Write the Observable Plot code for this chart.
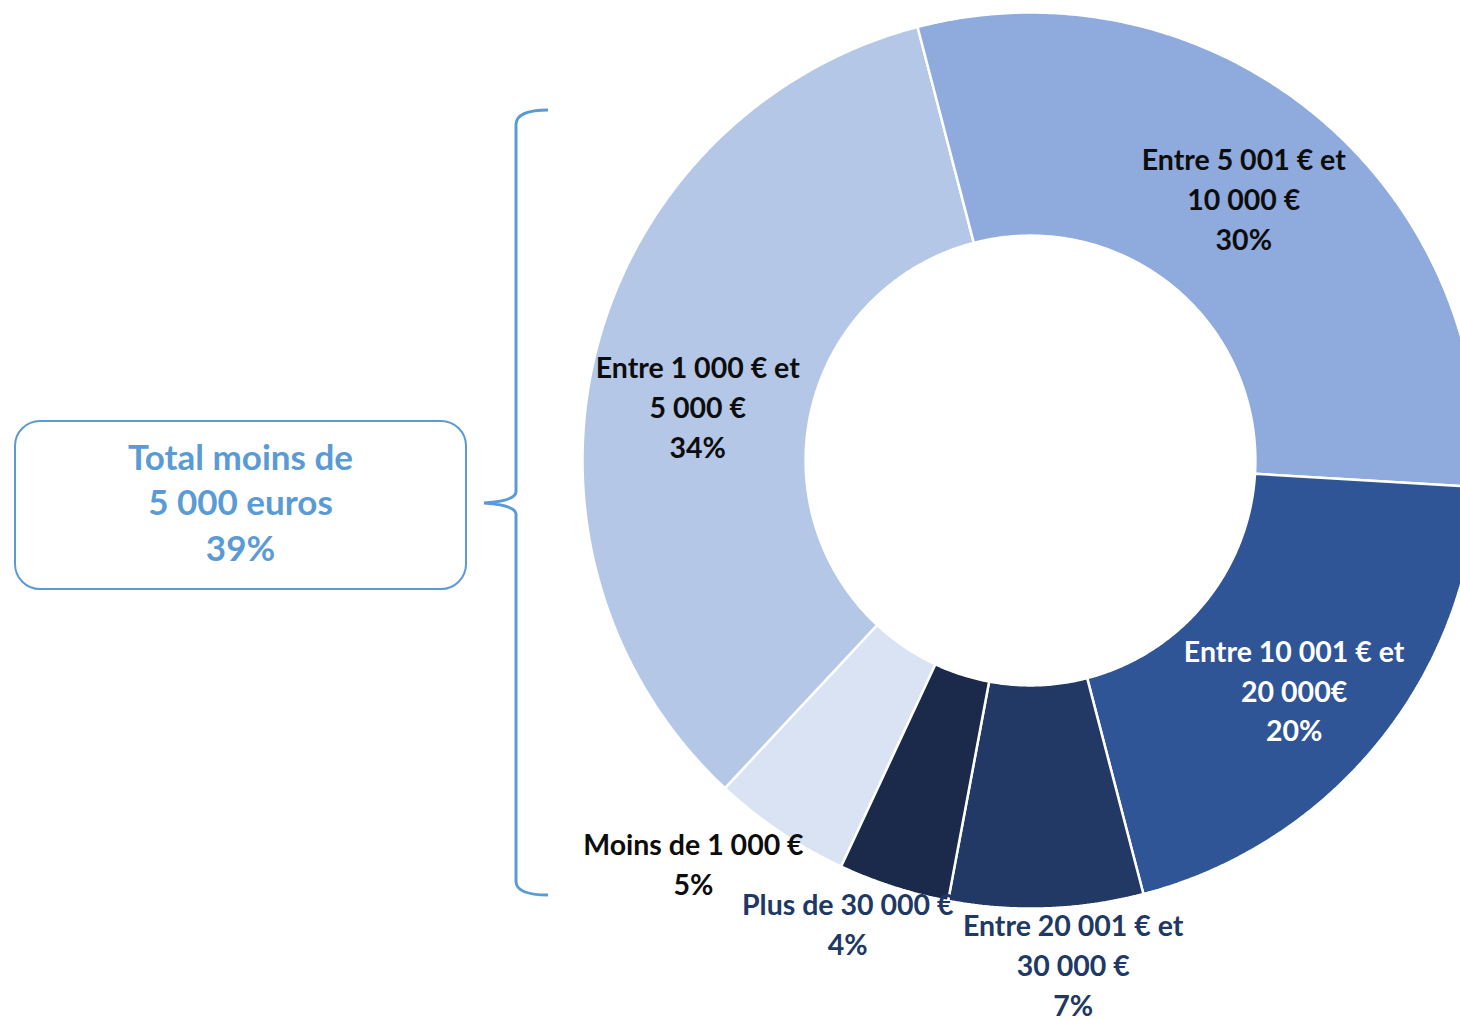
<!DOCTYPE html>
<html>
<head>
<meta charset="utf-8">
<script src="https://cdn.jsdelivr.net/npm/d3@7"></script>
<script src="https://cdn.jsdelivr.net/npm/@observablehq/plot@0.6"></script>
<style>
  html, body { margin: 0; padding: 0; background: #fff; overflow: hidden; }
  #wrap { position: relative; width: 1460px; height: 1019px; overflow: hidden; }
  #chart svg { display: block; }
  #box {
    position: absolute; left: 14px; top: 420px; width: 449px; height: 160px;
    border: 2.5px solid #5B9BD5; border-radius: 26px; box-sizing: content-box;
    display: flex; align-items: center; justify-content: center; text-align: center;
    font-family: Lato, "Open Sans", sans-serif; font-weight: 700; font-size: 35px;
    line-height: 45.5px; color: #5B9BD5; padding-bottom: 6px;
  }
  #brace { position: absolute; left: 0; top: 0; }
</style>
</head>
<body>
<div id="wrap">
  <div id="chart"></div>
  <div id="box">Total moins de<br>5 000 euros<br>39%</div>
  <svg id="brace" width="1460" height="1019">
    <path d="M548,110 Q517,110 516,124 L516,492 Q515,501 484,503 Q515,505 516,514 L516,882 Q517,895 548,895"
          fill="none" stroke="#5B9BD5" stroke-width="3"/>
  </svg>
</div>
<script>
// ---- data ----
const categories = [
  "Moins de 1 000 €",
  "Entre 1 000 € et\n5 000 €",
  "Entre 5 001 € et\n10 000 €",
  "Entre 10 001 € et\n20 000€",
  "Entre 20 001 € et\n30 000 €",
  "Plus de 30 000 €"
];
const shares = [5, 34, 30, 20, 7, 4];
const colors = ["#DAE3F3", "#B4C7E7", "#8FAADC", "#2F5597", "#223966", "#1B2A4B"];
const labelColors = ["#0D0D0D", "#0D0D0D", "#0D0D0D", "#FFFFFF", "#203864", "#203864"];

// ---- layout ----
const W = 1460, H = 1019;
const cx = 1030, cy = 460, R = 448;     // centre & outer radius (px)
const inner = 0.502;                     // hole ratio
const startDeg = 205;                    // angle of first slice (clockwise from top)
const labelInside = [false, true, true, true, false, false];
const labelNudge = [[-54, -18], [-7, 27], [0, -4], [4, 15], [25, -3], [-28, -20]];

const total = d3.sum(shares);
let acc = startDeg;
const slices = shares.map((v, i) => {
  const a0 = acc, a1 = acc + v / total * 360;
  acc = a1;
  return {i, cat: categories[i], v, a0, a1, mid: (a0 + a1) / 2};
});

const rad = d => d * Math.PI / 180;
function polygon(s) {
  const pts = [];
  const n = Math.max(8, Math.ceil((s.a1 - s.a0) / 0.5));
  for (let k = 0; k <= n; k++) {
    const a = rad(s.a0 + (s.a1 - s.a0) * k / n);
    pts.push({x: Math.sin(a), y: Math.cos(a)});
  }
  for (let k = n; k >= 0; k--) {
    const a = rad(s.a0 + (s.a1 - s.a0) * k / n);
    pts.push({x: inner * Math.sin(a), y: inner * Math.cos(a)});
  }
  return pts;
}

const sliceMarks = slices.map(s =>
  Plot.line(polygon(s), {x: "x", y: "y", curve: "linear-closed",
    fill: colors[s.i], stroke: "white", strokeWidth: 2.5, strokeLinejoin: "miter"})
);

const labelMarks = slices.map(s => {
  const r = labelInside[s.i] ? 0.75 : 1.13;
  const a = rad(s.mid);
  const txt = s.cat + "\n" + s.v + "%";
  return Plot.text([{x: r * Math.sin(a), y: r * Math.cos(a), t: txt}], {
    x: "x", y: "y", text: "t", fill: labelColors[s.i],
    fontSize: 28.5, fontWeight: 700, fontFamily: "Lato, 'Open Sans', sans-serif",
    lineHeight: 1.4, dx: labelNudge[s.i][0], dy: labelNudge[s.i][1]
  });
});

const chart = Plot.plot({
  width: W, height: H,
  margin: 0,
  x: {domain: [-cx / R, (W - cx) / R], range: [0, W], axis: null},
  y: {domain: [-(H - cy) / R, cy / R], range: [H, 0], axis: null},
  style: {background: "white", overflow: "hidden"},
  marks: [...sliceMarks, ...labelMarks]
});
document.getElementById("chart").appendChild(chart);
</script>
</body>
</html>
